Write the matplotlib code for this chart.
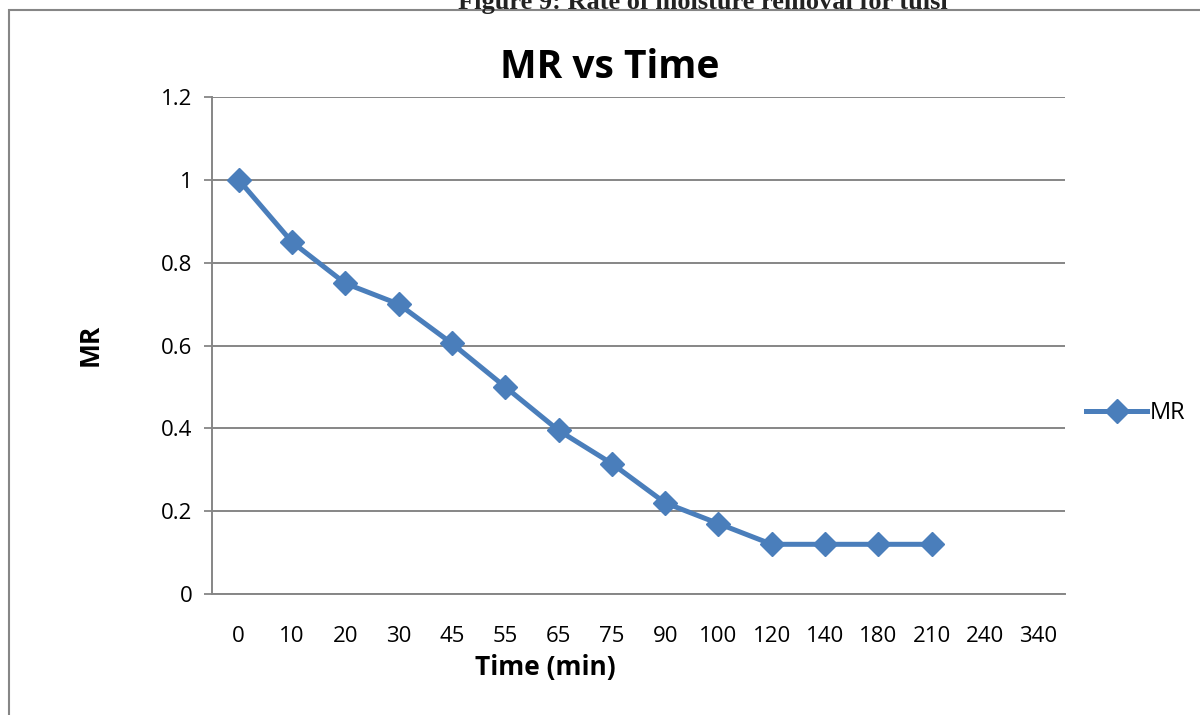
import numpy as np
import matplotlib.pyplot as plt
from matplotlib.patches import Rectangle

# data
time_labels = ['0', '10', '20', '30', '45', '55', '65', '75', '90', '100',
               '120', '140', '180', '210', '240', '340']
mr_values = [1.0, 0.85, 0.75, 0.70, 0.605, 0.50, 0.395, 0.315, 0.22, 0.17,
             0.12, 0.12, 0.12, 0.12, np.nan, np.nan]
y_ticks = [0, 0.2, 0.4, 0.6, 0.8, 1, 1.2]

plt.rcParams['font.family'] = ['Open Sans', 'DejaVu Sans']

fig = plt.figure(figsize=(12, 7.15), dpi=100)
W, H = 1200, 715

# outer chart border (runs off the right and bottom edges)
fig.patches.append(Rectangle((9 / W, -0.1), 1.2, 1 - 10 / H + 0.1,
                             transform=fig.transFigure, fill=False,
                             edgecolor='#868686', linewidth=1.5))

# caption above the chart, cut by the top edge in the reference
fig.text(703 / W, 1 - 3 / H, 'Figure 9: Rate of moisture removal for tulsi',
         ha='center', va='center', fontsize=19, fontweight='bold',
         family='Liberation Serif', color='#222222')

left, right, top, bottom = 212, 1065, 97, 594
ax = fig.add_axes([left / W, 1 - bottom / H, (right - left) / W, (bottom - top) / H])

x = np.arange(len(time_labels))
ax.plot(x, mr_values, color='#4a7ebb', linewidth=3.6, marker='D',
        markersize=12, label='MR')

ax.set_xlim(-0.5, len(time_labels) - 0.5)
ax.set_ylim(0, 1.2)
ax.set_xticks(x)
ax.set_xticklabels(time_labels)
ax.set_yticks(y_ticks)
ax.set_yticklabels([f'{v:g}' for v in y_ticks])
ax.tick_params(axis='x', length=0, labelsize=16, pad=23)
ax.tick_params(axis='y', length=6, width=1.3, color='#868686', labelsize=16, pad=8)

ax.grid(axis='y', color='#868686', linewidth=1.4)
ax.set_axisbelow(True)
for side in ['top', 'right']:
    ax.spines[side].set_visible(False)
for side in ['left', 'bottom']:
    ax.spines[side].set_color('#868686')
    ax.spines[side].set_linewidth(1.4)

# titles placed where the reference has them
fig.text(610 / W, 1 - 67 / H, 'MR vs Time', ha='center', va='center',
         fontsize=28, fontweight='bold')
fig.text(545 / W, 1 - 668 / H, 'Time (min)', ha='center', va='center',
         fontsize=19, fontweight='bold')
fig.text(90 / W, 1 - 345 / H, 'MR', ha='center', va='center', rotation=90,
         fontsize=19, fontweight='bold')

fig.legend(loc='center left', bbox_to_anchor=(1086 / W, 1 - 413 / H),
           frameon=False, fontsize=17, handlelength=2.6, handletextpad=0.1,
           borderaxespad=0, borderpad=0)

fig.savefig('out.png', dpi=100)
